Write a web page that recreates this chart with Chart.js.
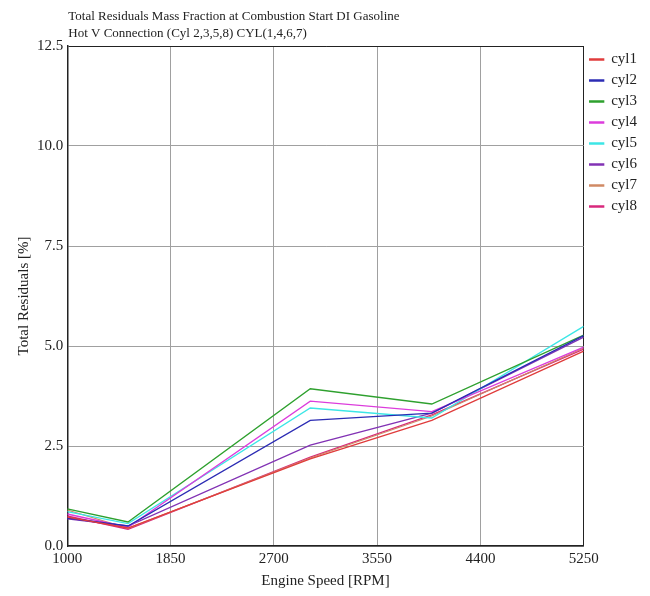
<!DOCTYPE html>
<html>
<head>
<meta charset="utf-8">
<script src="https://cdn.jsdelivr.net/npm/chart.js@4.4.1/dist/chart.umd.min.js"></script>
<style>
    html, body { margin: 0; padding: 0; background: #ffffff; }
    #wrap { width: 650px; height: 596px; }
</style>
</head>
<body>
<div id="wrap"><canvas id="residualChart"></canvas></div>
<script>
// engine speeds where the residual fraction was sampled
const speeds = [1000, 1500, 3000, 4000, 5250];

// total residual mass fraction [%] per cylinder
const cyl1 = [0.72, 0.45, 2.18, 3.14, 4.87];
const cyl2 = [0.70, 0.50, 3.14, 3.32, 5.26];
const cyl3 = [0.93, 0.60, 3.93, 3.55, 5.27];
const cyl4 = [0.80, 0.47, 3.62, 3.36, 4.97];
const cyl5 = [0.86, 0.56, 3.45, 3.20, 5.49];
const cyl6 = [0.68, 0.50, 2.52, 3.32, 5.22];
const cyl7 = [0.90, 0.44, 2.20, 3.25, 4.95];
const cyl8 = [0.75, 0.42, 2.22, 3.28, 4.92];

const seriesNames = ["cyl1", "cyl2", "cyl3", "cyl4", "cyl5", "cyl6", "cyl7", "cyl8"];
const seriesValues = [cyl1, cyl2, cyl3, cyl4, cyl5, cyl6, cyl7, cyl8];
const seriesColors = ["#e03c3c", "#2c2cb4", "#2ea02e", "#dc3cdc", "#3ce6e6", "#8232b4", "#d08a64", "#d8287c"];

// axis ticks
const xTicks = [1000, 1850, 2700, 3550, 4400, 5250];
const yTicks = [0, 2.5, 5, 7.5, 10, 12.5];

const titleLines = [
    "Total Residuals Mass Fraction at Combustion Start DI Gasoline",
    "Hot V Connection (Cyl 2,3,5,8) CYL(1,4,6,7)"
];

const serif = "'Liberation Serif', 'DejaVu Serif', serif";

// two line heading drawn flush with the left edge of the plot
const headingPlugin = {
    id: "heading",
    afterDraw(chart) {
        const ctx = chart.ctx;
        ctx.save();
        ctx.fillStyle = "#222";
        ctx.font = "13px " + serif;
        ctx.textBaseline = "alphabetic";
        ctx.textAlign = "left";
        titleLines.forEach((line, i) => {
            ctx.fillText(line, chart.chartArea.left + 1, 20 + i * 17);
        });
        ctx.restore();
    }
};

const datasets = seriesNames.map((name, i) => ({
    label: name,
    data: speeds.map((s, j) => ({ x: s, y: seriesValues[i][j] })),
    borderColor: seriesColors[i],
    backgroundColor: seriesColors[i],
    borderWidth: 1.3,
    pointRadius: 0,
    tension: 0,
    fill: false
}));

new Chart(document.getElementById("residualChart"), {
    type: "line",
    data: { datasets: datasets },
    options: {
        responsive: true,
        maintainAspectRatio: false,
        animation: false,
        layout: { padding: { top: 46, right: 3, left: 15, bottom: 6 } },
        plugins: {
            legend: {
                position: "right",
                align: "start",
                labels: {
                    color: "#222",
                    font: { family: serif, size: 15 },
                    boxWidth: 14,
                    boxHeight: 1,
                    padding: 6
                }
            },
            tooltip: { enabled: false }
        },
        scales: {
            x: {
                type: "linear",
                min: 1000,
                max: 5250,
                afterBuildTicks: (axis) => { axis.ticks = xTicks.map(v => ({ value: v })); },
                ticks: {
                    color: "#222",
                    font: { family: serif, size: 15 },
                    padding: 4,
                    maxRotation: 0,
                    callback: (v) => String(v)
                },
                grid: {
                    drawTicks: false,
                    color: (c) => c.tick && c.tick.value === 5250 ? "#222" : "#a0a0a0",
                    lineWidth: 1
                },
                border: { color: "#222", width: 1.5 },
                title: {
                    display: true,
                    text: "Engine Speed [RPM]",
                    color: "#222",
                    font: { family: serif, size: 15 },
                    padding: { top: 0, bottom: 0 }
                }
            },
            y: {
                min: 0,
                max: 12.5,
                afterBuildTicks: (axis) => { axis.ticks = yTicks.map(v => ({ value: v })); },
                ticks: {
                    color: "#222",
                    font: { family: serif, size: 15 },
                    padding: 4,
                    callback: (v) => Number(v).toFixed(1)
                },
                grid: {
                    drawTicks: false,
                    color: (c) => c.tick && c.tick.value === 12.5 ? "#222" : "#a0a0a0",
                    lineWidth: 1
                },
                border: { color: "#222", width: 1.5 },
                title: {
                    display: true,
                    text: "Total Residuals [%]",
                    color: "#222",
                    font: { family: serif, size: 15 },
                    padding: { top: 0, bottom: 0 }
                }
            }
        }
    },
    plugins: [headingPlugin]
});
</script>
</body>
</html>
